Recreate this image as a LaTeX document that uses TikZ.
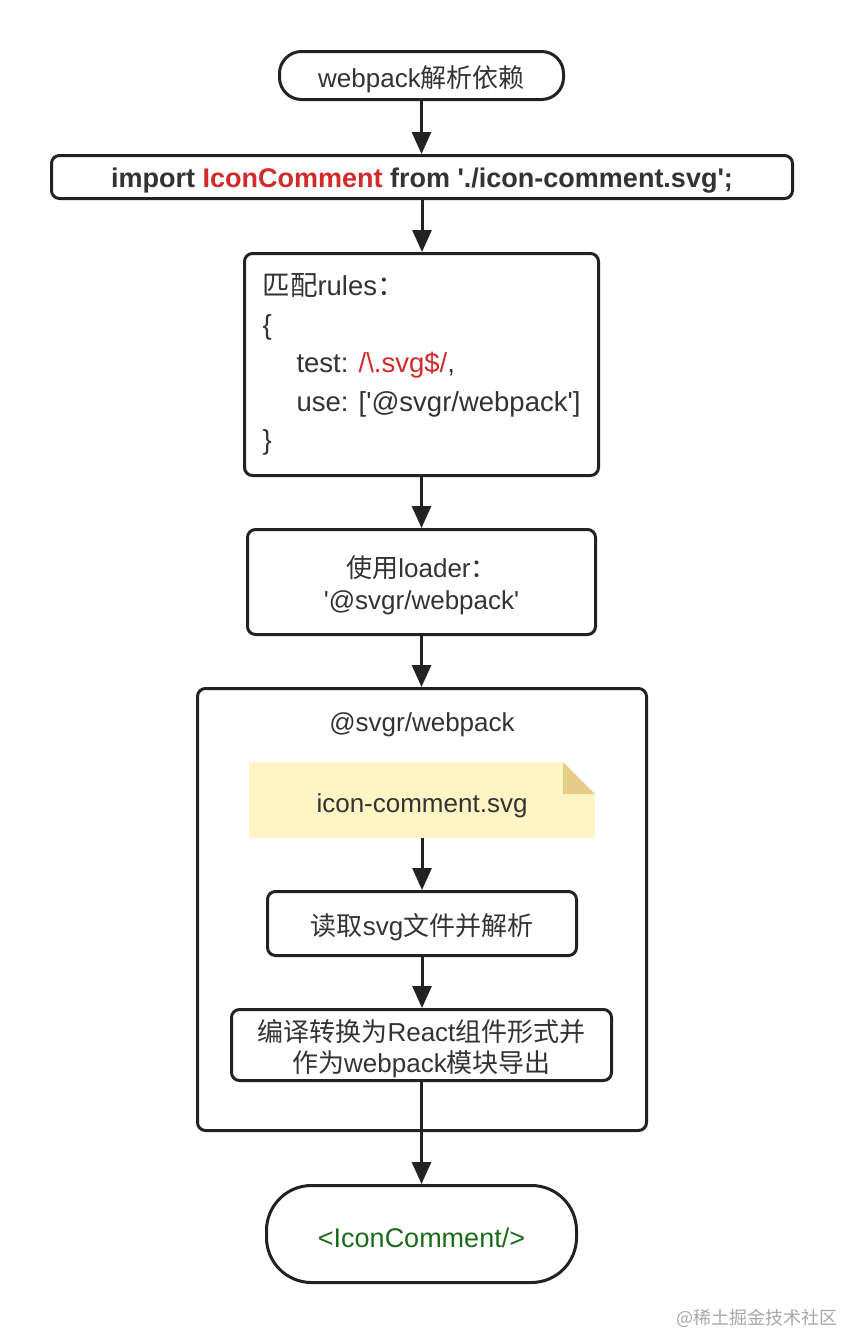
\documentclass[tikz,border=0pt]{standalone}
\usepackage{fontspec}
\setmainfont{Liberation Sans}
\newfontfamily\cjk{Noto Sans CJK SC}
\usetikzlibrary{arrows.meta}
\definecolor{ink}{HTML}{222222}
\definecolor{txt}{HTML}{333333}
\definecolor{codered}{HTML}{D22B2B}
\definecolor{codegreen}{HTML}{1B6B1B}
\definecolor{notefill}{HTML}{FFF4C4}
\definecolor{notefold}{HTML}{E5CD88}
\definecolor{wmark}{HTML}{A8A8A8}
\newcommand{\zh}[1]{{\cjk #1}}
\newcommand{\sq}{\textquotesingle}
\newcommand{\dn}[1]{\raisebox{-3.5pt}[\height][\depth]{#1}}
\begin{document}
\begin{tikzpicture}[x=1pt,y=-1pt,
  box/.style={draw=ink, line width=3pt, rounded corners=8pt, fill=white, text=txt,
    align=center, font=\fontsize{26}{32}\selectfont, inner sep=0pt},
  plain/.style={text=txt, align=center, font=\fontsize{26}{32}\selectfont, inner sep=0pt},
  arr/.style={draw=ink, line width=3pt, -{Triangle[length=22pt,width=19pt]}}]
\useasboundingbox[fill=white] (0,0) rectangle (844,1334);

% container
\node[box, minimum width=449pt, minimum height=442pt] (container) at (422,909.5) {};
\node[plain] (title) at (422,725) {@svgr/webpack};

% start
\node[box, rounded corners=22pt, minimum width=284pt, minimum height=48pt] (start) at (421.5,75.5)
  {\dn{webpack\zh{解析依赖}}};

% import
\node[box, minimum width=741pt, minimum height=43pt, font=\fontsize{27}{32}\selectfont\bfseries] (import) at (422,177)
  {\dn{import \textcolor{codered}{IconComment} from \sq./icon-comment.svg\sq;}};

% rules
\node[box, align=left, minimum width=354pt, minimum height=222pt, font=\fontsize{27.5}{38.5}\selectfont] (rules) at (421.5,364.5)
  {\zh{匹配}rules\zh{：}\\
   \{\\
   \hspace*{34pt}test: \textcolor{codered}{/\textbackslash.svg\$/},\\
   \hspace*{34pt}use: [\sq @svgr/webpack\sq]\\
   \}};

% loader
\node[box, minimum width=348pt, minimum height=105pt] (loader) at (421.5,582) {};
\node[plain] (loadertext) at (421.5,585.5)
  {\zh{使用}loader\zh{：}\\ \sq @svgr/webpack\sq};

% note
\fill[notefill] (249,762) -- (563,762) -- (595,794) -- (595,838) -- (249,838) -- cycle;
\fill[notefold] (563,762) -- (563,794) -- (595,794) -- cycle;
\node[plain, minimum width=346pt, minimum height=76pt] (note) at (422,800) {\raisebox{-5.5pt}[\height][\depth]{icon-comment.svg}};

% read
\node[box, minimum width=309pt, minimum height=64pt] (read) at (422,923.5)
  {\dn{\zh{读取}svg\zh{文件并解析}}};

% compile
\node[box, minimum width=380pt, minimum height=71pt] (compile) at (421.5,1045) {};
\node[plain, font=\fontsize{26}{31}\selectfont] (compiletext) at (421.5,1048.5)
  {\zh{编译转换为}React\zh{组件形式并}\\ \zh{作为}webpack\zh{模块导出}};

% end
\node[box, rounded corners=45pt, minimum width=310pt, minimum height=97pt, text=codegreen,
  font=\fontsize{27}{32}\selectfont] (end) at (421.5,1234)
  {\dn{<IconComment/>}};

% arrows
\draw[arr] (start.south) -- (start.south |- import.north);
\draw[arr] (import.south) -- (import.south |- rules.north);
\draw[arr] (rules.south) -- (rules.south |- loader.north);
\draw[arr] (loader.south) -- (loader.south |- container.north);
\draw[arr] (note.south) -- (note.south |- read.north);
\draw[arr] (read.south) -- (read.south |- compile.north);
\draw[arr] (compile.south) -- (compile.south |- end.north);

% watermark
\node[anchor=east, text=wmark, font=\fontsize{18}{20}\selectfont\cjk, inner sep=0pt] (wm) at (838,1318) {@稀土掘金技术社区};
\end{tikzpicture}
\end{document}
